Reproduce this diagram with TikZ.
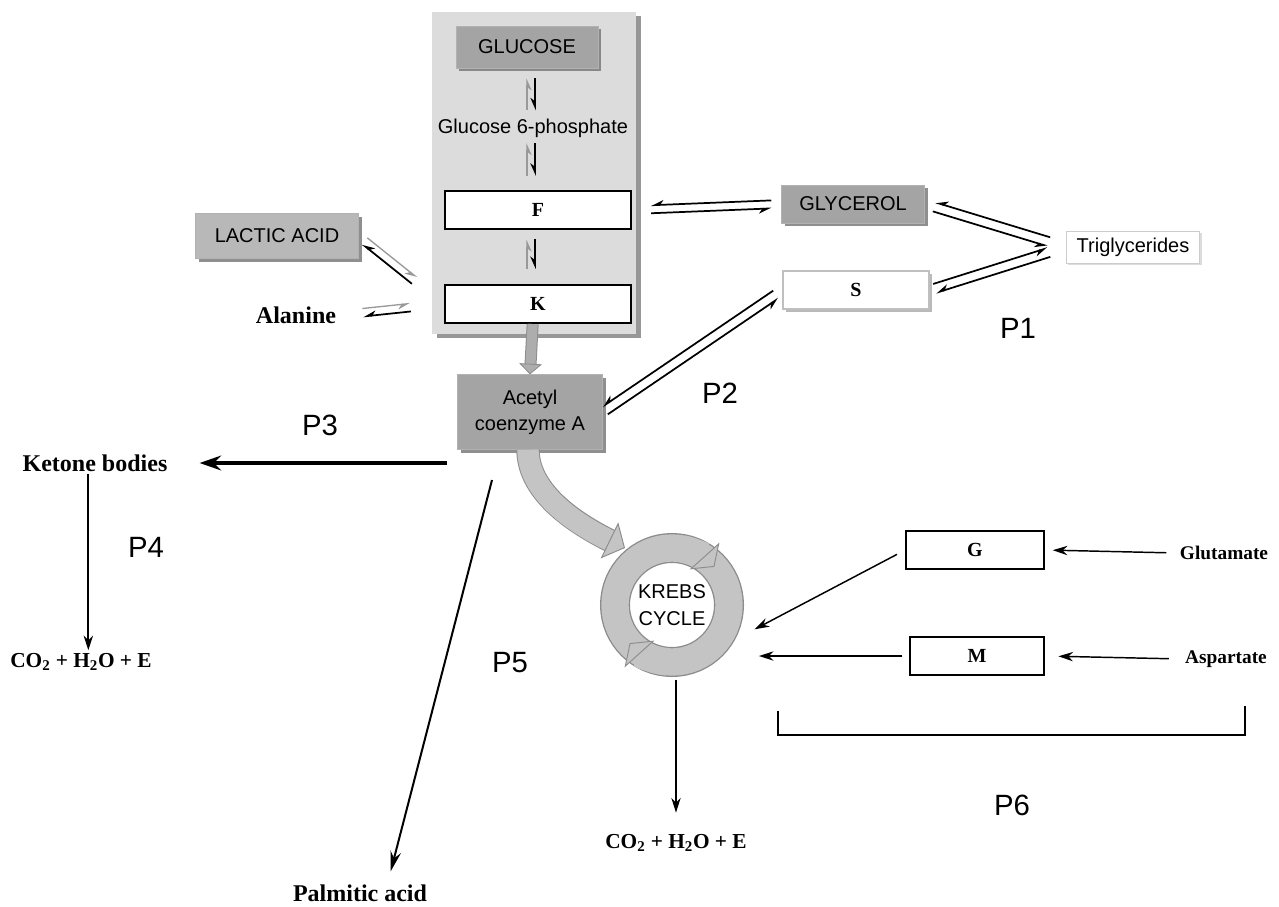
\documentclass[tikz,border=0pt]{standalone}
\usepackage{fontspec}
\setmainfont{Liberation Serif}
\newfontfamily\arialf{Liberation Sans}
\usetikzlibrary{arrows.meta,calc,shadows}
\definecolor{panelgray}{HTML}{DCDCDC}
\definecolor{boxgray}{HTML}{A4A4A4}
\definecolor{lightbox}{HTML}{B8B8B8}
\definecolor{kgray}{HTML}{C4C4C4}
\newcommand\eqpair[7]{%
  \draw[#3, shorten <=#5, shorten >=#6] ($(#1)!#7!-90:(#2)$) -- ($(#2)!#7!90:(#1)$);
  \draw[#4, shorten <=#6, shorten >=#5] ($(#2)!#7!-90:(#1)$) -- ($(#1)!#7!90:(#2)$);}
\begin{document}
\begin{tikzpicture}[x=0.75pt,y=-0.75pt,
  sans/.style={font=\arialf\fontsize{15}{18}\selectfont},
  ser/.style={font=\bfseries\fontsize{15}{18}\selectfont},
  bigser/.style={font=\bfseries\fontsize{18}{21}\selectfont},
  plab/.style={font=\arialf\fontsize{22}{26}\selectfont},
  graybox/.style={draw=black!30, fill=boxgray, inner sep=0pt,
    drop shadow={shadow xshift=2.5pt, shadow yshift=-2.5pt, fill=black!55, opacity=0.8}},
  whitebox/.style={draw=black, line width=1.6pt, fill=white, inner sep=0pt},
  eqb/.style={draw=black, line width=1.3pt, -{Stealth[harpoon,swap,length=8pt,width=7pt]}},
  eqg/.style={draw=black!40, line width=1pt, -{Stealth[harpoon,swap,length=8pt,width=7pt]}},
  arr/.style={draw=black, line width=1.3pt, -{Stealth[length=11pt,width=7pt]}},
  txt/.style={inner sep=2pt},
]
\useasboundingbox (0,0) rectangle (1279,907);
\fill[white] (0,0) rectangle (1279,907);

% central panel
\node[fill=panelgray, minimum width=153pt, minimum height=241.5pt, inner sep=0pt,
  drop shadow={shadow xshift=3.5pt, shadow yshift=-3pt, fill=black!45, opacity=0.9}] (panel) at (534,173) {};

% nodes
\node[graybox, minimum width=106.5pt, minimum height=31.5pt, sans] (glucose) at (527,47) {GLUCOSE};
\node[sans, txt] (g6p) at (533,128) {Glucose 6-phosphate};
\node[whitebox, minimum width=140pt, minimum height=28.5pt, ser] (F) at (538,210) {F};
\node[whitebox, minimum width=140pt, minimum height=28.5pt, ser] (K) at (538,304) {K};
\node[graybox, fill=lightbox, minimum width=122pt, minimum height=34pt, sans] (lactic) at (277,236) {LACTIC ACID};
\node[bigser, txt] (alanine) at (296,315) {Alanine};
\node[graybox, minimum width=109pt, minimum height=56pt, align=center,
  font=\arialf\fontsize{15}{19.5}\selectfont] (acetyl) at (530,412) {Acetyl\\coenzyme A};
\node[graybox, minimum width=107pt, minimum height=28.5pt, sans] (glycerol) at (853,204) {GLYCEROL};
\node[draw=black!25, fill=white, line width=0.8pt, inner sep=0pt,
  drop shadow={shadow xshift=2.5pt, shadow yshift=-2.5pt, fill=black!30, opacity=0.9},
  minimum width=109.5pt, minimum height=28.5pt, ser] (S) at (856,290) {S};
\node[draw=black!20, fill=white, minimum width=100pt, minimum height=24pt, inner sep=0pt, sans,
  drop shadow={shadow xshift=1.5pt, shadow yshift=-1.5pt, fill=black!15, opacity=0.9}] (trig) at (1133,247) {Triglycerides};
\node[bigser, txt] (ketone) at (95,463) {Ketone bodies};
\node[ser, txt, font=\bfseries\fontsize{16}{19}\selectfont] (co2a) at (81,662) {CO\textsubscript{2} + H\textsubscript{2}O + E};
\node[bigser, txt] (palmitic) at (360,893) {Palmitic acid};
\node[ser, txt, font=\bfseries\fontsize{16}{19}\selectfont] (co2b) at (676,843) {CO\textsubscript{2} + H\textsubscript{2}O + E};
\node[whitebox, minimum width=103pt, minimum height=28.5pt, ser] (G) at (975,550) {G};
\node[whitebox, minimum width=100.5pt, minimum height=28pt, ser] (M) at (977,656) {M};
\node[txt, font=\bfseries\fontsize{14.5}{17}\selectfont] (glutamate) at (1224,553) {Glutamate};
\node[txt, font=\bfseries\fontsize{14.5}{17}\selectfont] (aspartate) at (1226,659) {Aspartate};

% Krebs cycle ring
\coordinate (kc) at (672,605);
\draw[black!45, line width=22.5pt] (kc) circle[radius=42.75pt];
\draw[kgray, line width=20.5pt] (kc) circle[radius=42.75pt];
\draw[kgray, line width=20.5pt, -{Triangle[width=30pt,length=11pt,fill=kgray,color=black!45,line width'=0.7pt]}]
  (kc) ++(80:42.75pt) arc[start angle=80, end angle=42, radius=42.75pt];
\draw[kgray, line width=20.5pt, -{Triangle[width=30pt,length=11pt,fill=kgray,color=black!45,line width'=0.7pt]}]
  (kc) ++(265:42.75pt) arc[start angle=265, end angle=222, radius=42.75pt];
\node[circle, minimum size=106pt, inner sep=0pt, align=center,
  font=\arialf\fontsize{15}{20}\selectfont] (krebs) at (kc) {KREBS\\CYCLE};

% curved arrow acetyl -> krebs
\coordinate (kin) at (625,548);
\draw[black!45, line width=17.5pt, shorten >=10pt] ([xshift=-1.5pt]acetyl.south) .. controls +(0,45) and +(-45,-22) .. (kin);
\draw[kgray, line width=16pt, -{Triangle[width=30pt,length=13pt,fill=kgray,color=black!45,line width'=0.7pt]}]
  ([xshift=-1.5pt]acetyl.south) .. controls +(0,45) and +(-45,-22) .. (kin);

% K -> acetyl thick arrow
\draw[black!45, line width=9pt, shorten >=6pt] ([xshift=-4pt]K.south) -- (acetyl.north);
\draw[boxgray!90, line width=7.5pt, -{Triangle[width=17pt,length=8pt,fill=boxgray!90,color=black!45,line width'=0.6pt]}] ([xshift=-4pt]K.south) -- (acetyl.north);

% equilibrium arrows in panel (vertical column)
\coordinate (col) at (531,0);
\eqpair{glucose.south -| col}{g6p.north -| col}{eqb}{eqg}{7.5pt}{4pt}{-3pt}
\eqpair{g6p.south -| col}{F.north -| col}{eqb}{eqg}{2pt}{10.5pt}{-3pt}
\eqpair{F.south -| col}{K.north -| col}{eqb}{eqg}{7pt}{11pt}{-3pt}
% lactic / alanine
\eqpair{lactic.east}{K.west}{eqg}{eqb}{6pt}{28pt}{-3pt}
\eqpair{alanine.east}{K.west}{eqg}{eqb}{18pt}{25pt}{-3pt}
% glycerol etc.
\eqpair{F.east}{glycerol.west}{eqb}{eqb}{14pt}{7.5pt}{3pt}
\eqpair{glycerol.east}{trig.west}{eqb}{eqb}{7.5pt}{13.5pt}{3.5pt}
\eqpair{S.east}{trig.west}{eqb}{eqb}{4pt}{13.5pt}{-3.5pt}
\eqpair{acetyl.east}{S.west}{eqb}{eqb}{2pt}{6pt}{3.5pt}

% acetyl -> ketone bodies
\coordinate (p3s) at (447,463);
\draw[black, line width=2.6pt, shorten >=22pt, -{Stealth[length=16pt,width=11pt]}] (p3s) -- (ketone.east);
\draw[arr] ([xshift=-5pt]ketone.south) -- ([xshift=-5pt]ketone.south |- co2a.north);
% acetyl -> palmitic acid
\coordinate (p5s) at (492,480);
\draw[arr, line width=1.5pt, shorten >=8pt, -{Stealth[length=15pt,width=8pt]}] (p5s) -- ([xshift=21pt]palmitic.north);
% krebs -> CO2
\draw[arr, shorten <=3pt, shorten >=14pt] ([xshift=3pt]krebs.south) -- ([xshift=3pt]krebs.south |- co2b.north);
% G, M
\draw[arr, line width=1.1pt, shorten <=8pt, shorten >=6pt] (glutamate.west) -- (G.east);
\draw[arr, line width=1.1pt, shorten <=10pt, shorten >=10pt] (aspartate.west) -- (M.east);
\draw[arr, line width=1.1pt, shorten <=7pt, shorten >=18pt] (G.west) -- (krebs.-30);
\draw[arr, line width=1.1pt, shorten <=5pt, shorten >=12pt] (M.west) -- (M.west -| krebs.east);

% bracket
\draw[black, line width=0.9pt] (778,711) -- (778,735) -- (1245,735) -- (1245,706);

% P labels
\node[plab] (p1) at (1018,328) {P1};
\node[plab] (p2) at (720,393) {P2};
\node[plab] (p3) at (320,425) {P3};
\node[plab] (p4) at (146,547) {P4};
\node[plab] (p5) at (510,663) {P5};
\node[plab] (p6) at (1012,805) {P6};
\end{tikzpicture}
\end{document}
